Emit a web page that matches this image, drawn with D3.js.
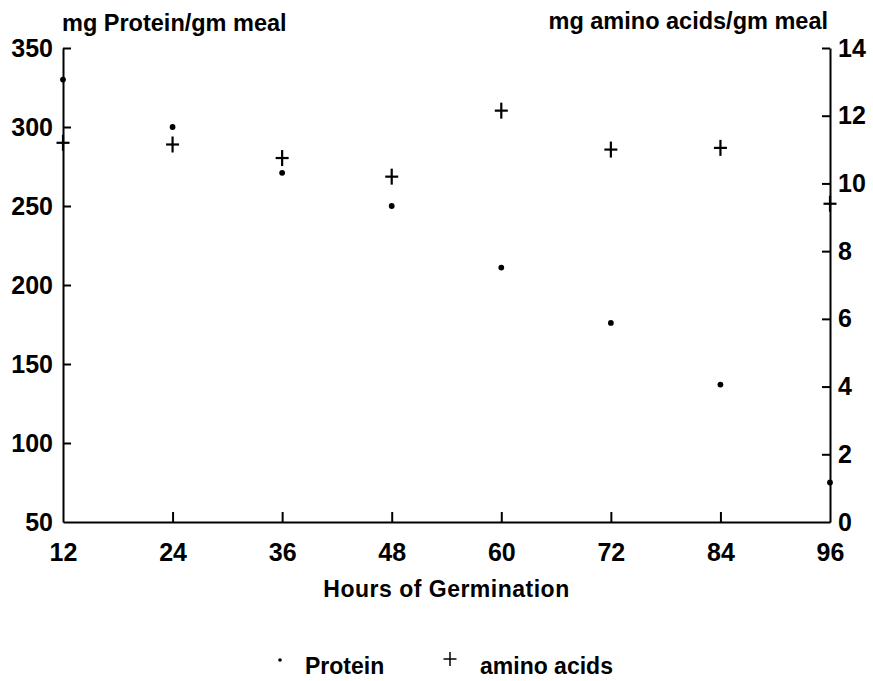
<!DOCTYPE html>
<html>
<head>
<meta charset="utf-8">
<script src="https://cdn.jsdelivr.net/npm/d3@7"></script>
<style>
    body { margin: 0; background: #fff; }
    svg text { font-family: "Liberation Sans", Arial, sans-serif; font-weight: bold; fill: #000; }
    .axis path, .axis line { stroke: #000; stroke-width: 2; }
    .axis text { font-size: 25px; }
</style>
</head>
<body>
<div id="chart"></div>
<script>
// values
var hours = [12, 24, 36, 48, 60, 72, 84, 96];
var protein = [330, 300, 271, 250, 211, 176, 137, 75];
var amino_acids = [11.2, 11.15, 10.75, 10.2, 12.15, 11.0, 11.05, 9.4];

var xTicks = [12, 24, 36, 48, 60, 72, 84, 96];
var yLeftTicks = [50, 100, 150, 200, 250, 300, 350];
var yRightTicks = [0, 2, 4, 6, 8, 10, 12, 14];

var width = 873, height = 681;
var margin = {left: 63, right: 43, top: 48, bottom: 159};
var w = width - margin.left - margin.right,
    h = height - margin.top - margin.bottom;

var svg = d3.select('#chart')
    .append('svg')
        .attr('width', width)
        .attr('height', height);

var g = svg.append('g')
    .attr('transform', 'translate(' + margin.left + ',' + margin.top + ')');

var x = d3.scaleLinear().domain([12, 96]).range([0, w]);
var yL = d3.scaleLinear().domain([50, 350]).range([h, 0]);
var yR = d3.scaleLinear().domain([0, 14]).range([h, 0]);

// bottom axis, ticks point up into the plot
var $x = g.append('g')
    .attr('class', 'x axis')
    .attr('transform', 'translate(0,' + h + ')')
    .call(d3.axisBottom(x).tickValues(xTicks).tickSize(-10).tickSizeOuter(0).tickPadding(21));
$x.selectAll('.tick line').filter(function(d) { return d == 12 || d == 96; }).remove();

// left axis, ticks inward
var $yl = g.append('g')
    .attr('class', 'y axis')
    .call(d3.axisLeft(yL).tickValues(yLeftTicks).tickSize(-8).tickSizeOuter(0).tickPadding(10));
$yl.selectAll('.tick line').filter(function(d) { return d == 50; }).remove();

// right axis, ticks inward
var $yr = g.append('g')
    .attr('class', 'y axis')
    .attr('transform', 'translate(' + w + ',0)')
    .call(d3.axisRight(yR).tickValues(yRightTicks).tickSize(-8).tickSizeOuter(0).tickPadding(8));
$yr.selectAll('.tick line').filter(function(d) { return d == 0; }).remove();

// axis titles
svg.append('text')
    .attr('x', 62).attr('y', 31)
    .style('font-size', '23.5px')
    .text('mg Protein/gm meal');

svg.append('text')
    .attr('x', 828).attr('y', 29)
    .attr('text-anchor', 'end')
    .style('font-size', '23.5px')
    .text('mg amino acids/gm meal');

svg.append('text')
    .attr('x', margin.left + w / 2).attr('y', 597)
    .attr('text-anchor', 'middle')
    .style('font-size', '23px')
    .style('letter-spacing', '0.5px')
    .text('Hours of Germination');

// protein dots
g.selectAll('.protein')
    .data(hours)
    .enter().append('circle')
        .attr('class', 'protein')
        .attr('cx', function(d) { return x(d); })
        .attr('cy', function(d, i) { return yL(protein[i]); })
        .attr('r', 2.9)
        .attr('fill', '#000');

// amino acid crosses
var plus = function(sel, hw, hh, sw) {
    sel.append('line').attr('x1', -hw).attr('x2', hw).attr('y1', 0).attr('y2', 0)
        .attr('stroke', '#000').attr('stroke-width', sw);
    sel.append('line').attr('x1', 0).attr('x2', 0).attr('y1', -hh).attr('y2', hh)
        .attr('stroke', '#000').attr('stroke-width', sw);
}

g.selectAll('.amino')
    .data(hours)
    .enter().append('g')
        .attr('class', 'amino')
        .attr('transform', function(d, i) { return 'translate(' + x(d) + ',' + yR(amino_acids[i]) + ')'; })
        .call(plus, 6.5, 8, 2.2);

// legend
var legend = svg.append('g').attr('class', 'legend');
legend.append('circle').attr('cx', 280).attr('cy', 660).attr('r', 1.8).attr('fill', '#000');
legend.append('text').attr('x', 305).attr('y', 674).style('font-size', '23px').text('Protein');
legend.append('g').attr('transform', 'translate(450,659)').call(plus, 6.5, 7, 1.5);
legend.append('text').attr('x', 480).attr('y', 674).style('font-size', '23px').text('amino acids');
</script>
</body>
</html>
